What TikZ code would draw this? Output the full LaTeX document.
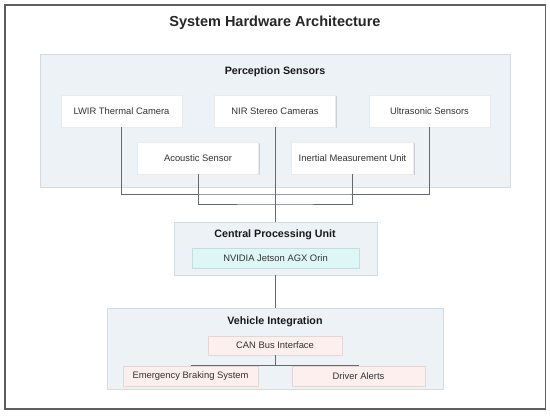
\documentclass[tikz,border=0pt]{standalone}
\usepackage{fontspec}
\setmainfont{Liberation Sans}
\usetikzlibrary{shadows}
\definecolor{frameC}{HTML}{5F5F5F}
\definecolor{panelF}{HTML}{EDF2F7}
\definecolor{panelD}{HTML}{D3DCE5}
\definecolor{lineC}{HTML}{666A6E}
\definecolor{cyanF}{HTML}{DDF6F6}
\definecolor{pinkF}{HTML}{FCEFEE}
\begin{document}
\begin{tikzpicture}[x=1pt,y=-1pt,
  panel/.style={draw=panelD,fill=panelF,line width=0.6pt},
  box/.style={fill=white,draw=white!92!black,line width=0.4pt,
    drop shadow={shadow xshift=1.2pt,shadow yshift=-1.2pt,opacity=0.25,fill=black!60},
    inner sep=0pt,font=\fontsize{9.4}{11}\selectfont,text=black!80},
  ptitle/.style={font=\fontsize{10.7}{12}\selectfont\bfseries,text=black!90},
  conn/.style={draw=lineC,line width=0.7pt}]
\useasboundingbox (0,0) rectangle (550,416);
\fill[white] (0,0) rectangle (550,416);
\draw[frameC,line width=1.6pt] (5,5) rectangle (545.5,409);
\node[font=\fontsize{14.5}{16}\selectfont\bfseries,text=black!85] (title) at (275,23) {System Hardware Architecture};
% panels
\draw[panel] (40,54.5) rectangle (510,187);
\node[ptitle] (pst) at (275,72) {Perception Sensors};
\draw[panel] (174,222) rectangle (377,275);
\node[ptitle] (cpt) at (275,235) {Central Processing Unit};
\draw[panel] (107,308) rectangle (443,389);
\node[ptitle] (vit) at (275,322) {Vehicle Integration};
% sensor boxes
\node[box,minimum width=121pt,minimum height=32pt] (lwir) at (121.5,111) {LWIR Thermal Camera};
\node[box,minimum width=121pt,minimum height=32pt] (nir) at (275,111) {NIR Stereo Cameras};
\node[box,minimum width=121pt,minimum height=32pt] (ultra) at (429.5,111) {Ultrasonic Sensors};
\node[box,minimum width=121pt,minimum height=32pt] (acou) at (198,158) {Acoustic Sensor};
\node[box,minimum width=122pt,minimum height=32pt] (imu) at (352.5,158) {Inertial Measurement Unit};
% CPU
\node[box,fill=cyanF,draw=cyanF!90!black,minimum width=167pt,minimum height=20pt] (jet) at (275.5,258) {NVIDIA Jetson AGX Orin};
% vehicle
\node[box,fill=pinkF,draw=pinkF!90!black,minimum width=134pt,minimum height=19pt] (can) at (275,345.5) {CAN Bus Interface};
\node[box,fill=pinkF,draw=pinkF!90!black,minimum width=135pt,minimum height=20pt] (ebs) at (190.5,376) {Emergency Braking System};
\node[box,fill=pinkF,draw=pinkF!90!black,minimum width=133pt,minimum height=20pt] (da) at (358.5,376) {Driver Alerts};
% connector anchors
\coordinate (bus1) at (275,194);
\coordinate (bus2) at (275,204);
\coordinate (cpuTop) at (275,222);
\coordinate (cpuBot) at (275,275);
\coordinate (vehTop) at (275,308);
% connectors
\draw[conn] (lwir.south) |- (bus1) -| (ultra.south);
\draw[conn] (acou.south) |- (bus2) -| (imu.south);
\draw[conn] (nir.south) -- (cpuTop);
\draw[conn] (cpuBot) -- (vehTop);
\draw[conn] (ebs.north) -- (da.north);
\draw[conn] (can.south) -- (can.south |- ebs.north);
\end{tikzpicture}
\end{document}
